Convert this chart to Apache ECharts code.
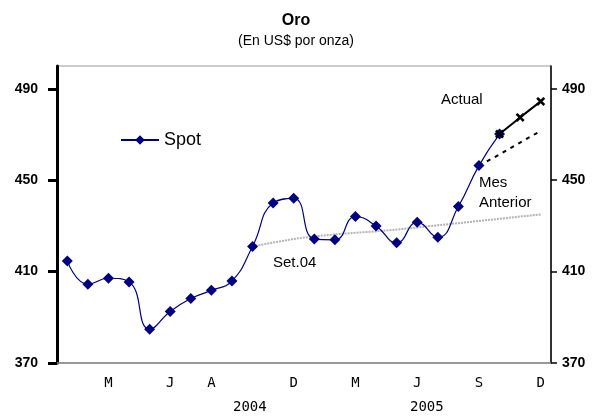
<!DOCTYPE html>
<html>
<head>
<meta charset="utf-8">
<script src="https://cdn.jsdelivr.net/npm/echarts@6/dist/echarts.min.js"></script>
<style>
  html, body { margin: 0; padding: 0; background: #fff; }
  #chart { width: 592px; height: 418px; }
</style>
</head>
<body>
<div id="chart"></div>
<script>
// meses (solo algunos con etiqueta)
const months = ['', '', 'M', '', '', 'J', '', 'A', '', '', '', 'D',
                '', '', 'M', '', '', 'J', '', '', 'S', '', '', 'D']
const years = ['2004', '2005']
const yTicks = [370, 410, 450, 490]

// precio spot
const spot = [414.7, 404.5, 407.1, 405.5, 384.8, 392.5, 398.2, 401.8, 405.9, 421.0, 440.0, 442.1,
              424.3, 423.9, 434.1, 430.0, 422.6, 431.6, 425.0, 438.5, 456.4, 470.2, null, null]
// curva futuros Set.04
const set04 = [null, null, null, null, null, null, null, null, null, 421.0, 422.7, 424.3,
               425.4, 426.3, 427.0, 427.6, 428.4, 429.3, 430.3, 431.2, 432.2, 433.1, 434.1, 435.0]
// curva mes anterior
const mesAnterior = [null, null, null, null, null, null, null, null, null, null, null, null,
                     null, null, null, null, null, null, null, null, 456.4, 461.3, 466.5, 471.6]
// curva actual
const actual = [null, null, null, null, null, null, null, null, null, null, null, null,
                null, null, null, null, null, null, null, null, null, 470.2, 477.5, 484.5]

const font = 'Liberation Sans, Arial, sans-serif'
// cruz gruesa para los puntos de la curva actual
const crossPath = 'path://M0,2L2,0L5,3L8,0L10,2L7,5L10,8L8,10L5,7L2,10L0,8L3,5Z'

const yAxisBase = {
  type: 'value',
  min: yTicks[0],
  max: 500,
  interval: yTicks[1] - yTicks[0],
  splitLine: { show: false },
  axisLabel: {
    showMaxLabel: false,
    color: '#000',
    fontFamily: font,
    fontSize: 14,
    fontWeight: 'bold',
  },
}

const chart = echarts.init(document.getElementById('chart'))
chart.setOption({
  animation: false,
  backgroundColor: '#fff',
  title: {
    text: 'Oro',
    subtext: '(En US$ por onza)',
    left: 'center',
    top: 8,
    itemGap: 5,
    textStyle: { fontFamily: font, fontSize: 16, fontWeight: 'bold', color: '#000' },
    subtextStyle: { fontFamily: font, fontSize: 14, color: '#000' },
  },
  legend: {
    data: ['Spot'],
    left: 115,
    top: 126,
    itemWidth: 38,
    itemHeight: 12,
    textStyle: { fontFamily: font, fontSize: 18, color: '#000' },
  },
  grid: {
    left: 57,
    right: 41,
    top: 66,
    bottom: 55,
    show: true,
    borderColor: '#999',
    borderWidth: 1,
  },
  xAxis: {
    type: 'category',
    data: months,
    boundaryGap: true,
    axisLine: { lineStyle: { color: '#888', width: 1.5 } },
    axisTick: { show: false },
    axisLabel: {
      interval: 0,
      margin: 13,
      color: '#000',
      fontFamily: 'DejaVu Sans Mono, monospace',
      fontSize: 14,
    },
  },
  yAxis: [
    Object.assign({}, yAxisBase, {
      position: 'left',
      axisLine: { show: true, lineStyle: { color: '#000', width: 3 } },
      axisTick: { show: true, length: 9, lineStyle: { color: '#000', width: 3 } },
      axisLabel: Object.assign({}, yAxisBase.axisLabel, { margin: 19 }),
    }),
    Object.assign({}, yAxisBase, {
      position: 'right',
      axisLine: { show: true, lineStyle: { color: '#000', width: 1.5 } },
      axisTick: { show: true, length: 6, lineStyle: { color: '#000', width: 1.5 } },
      axisLabel: Object.assign({}, yAxisBase.axisLabel, { margin: 11 }),
    }),
  ],
  graphic: [
    { type: 'text', left: 233, top: 400, style: { text: years[0], font: '14px DejaVu Sans Mono', fill: '#000' } },
    { type: 'text', left: 410, top: 400, style: { text: years[1], font: '14px DejaVu Sans Mono', fill: '#000' } },
    { type: 'text', left: 441, top: 92, style: { text: 'Actual', font: '15px ' + font, fill: '#000' } },
    { type: 'text', left: 479, top: 173, style: { text: 'Mes\nAnterior', font: '15px ' + font, lineHeight: 20, fill: '#000' } },
    { type: 'text', left: 273, top: 255, style: { text: 'Set.04', font: '15px ' + font, fill: '#000' } },
  ],
  series: [
    {
      name: 'Set.04',
      type: 'line',
      data: set04,
      symbol: 'none',
      z: 1,
      lineStyle: { color: '#b3b3b3', width: 2, type: [2, 1] },
    },
    {
      name: 'Mes Anterior',
      type: 'line',
      data: mesAnterior,
      symbol: 'none',
      z: 1,
      lineStyle: { color: '#000', width: 2, type: [4, 5] },
    },
    {
      name: 'Actual',
      type: 'line',
      data: actual,
      symbol: crossPath,
      symbolSize: 9,
      z: 3,
      itemStyle: { color: '#000' },
      lineStyle: { color: '#000', width: 2 },
    },
    {
      name: 'Spot',
      type: 'line',
      data: spot,
      smooth: 0.5,
      symbol: 'diamond',
      symbolSize: 11,
      z: 2,
      itemStyle: { color: '#000080' },
      lineStyle: { color: '#000080', width: 1.2 },
    },
  ],
})
</script>
</body>
</html>
